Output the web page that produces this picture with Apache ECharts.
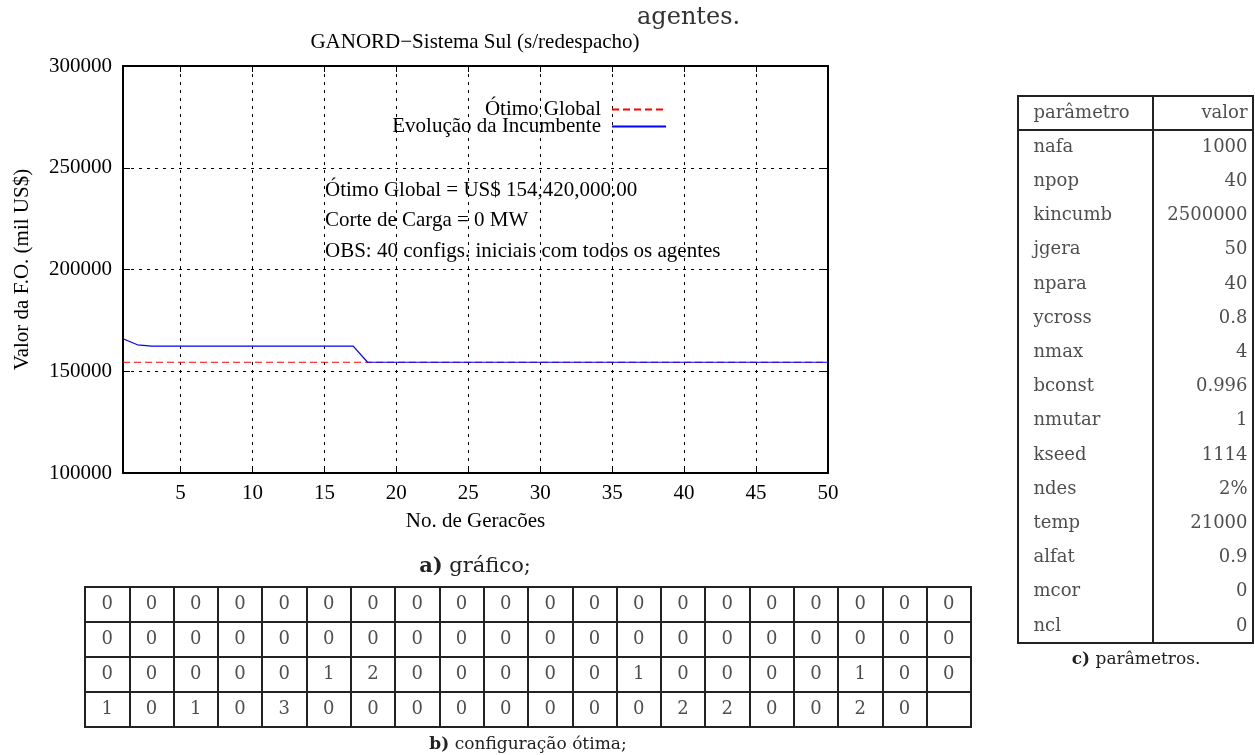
<!DOCTYPE html>
<html>
<head>
<meta charset="utf-8">
<title>GANORD - Sistema Sul</title>
<script src="https://cdn.jsdelivr.net/npm/echarts@6.0.0/dist/echarts.min.js"></script>
<style>
  html, body { margin: 0; padding: 0; background: #fff; }
  #chart { width: 1255px; height: 755px; }
</style>
</head>
<body>
<div id="chart"></div>
<script>
// dados do grafico (geracoes x valor da F.O.)
const generations = [1, 2, 3, 4, 5, 6, 7, 8, 9, 10, 11, 12, 13, 14, 15, 16, 17, 18, 19, 20,
    21, 22, 23, 24, 25, 26, 27, 28, 29, 30, 31, 32, 33, 34, 35, 36, 37, 38, 39, 40,
    41, 42, 43, 44, 45, 46, 47, 48, 49, 50];
const xTicks = [5, 10, 15, 20, 25, 30, 35, 40, 45, 50];
const globalOptimum = [154420, 154420, 154420, 154420, 154420, 154420, 154420, 154420, 154420, 154420,
    154420, 154420, 154420, 154420, 154420, 154420, 154420, 154420, 154420, 154420,
    154420, 154420, 154420, 154420, 154420, 154420, 154420, 154420, 154420, 154420,
    154420, 154420, 154420, 154420, 154420, 154420, 154420, 154420, 154420, 154420,
    154420, 154420, 154420, 154420, 154420, 154420, 154420, 154420, 154420, 154420];
const incumbent = [166000, 163000, 162300, 162300, 162300, 162300, 162300, 162300, 162300, 162300,
    162300, 162300, 162300, 162300, 162300, 162300, 162300, 154420, 154420, 154420,
    154420, 154420, 154420, 154420, 154420, 154420, 154420, 154420, 154420, 154420,
    154420, 154420, 154420, 154420, 154420, 154420, 154420, 154420, 154420, 154420,
    154420, 154420, 154420, 154420, 154420, 154420, 154420, 154420, 154420, 154420];

// b) configuracao otima
const configCols = [1, 2, 3, 4, 5, 6, 7, 8, 9, 10, 11, 12, 13, 14, 15, 16, 17, 18, 19, 20];
const configRow1 = [0, 0, 0, 0, 0, 0, 0, 0, 0, 0, 0, 0, 0, 0, 0, 0, 0, 0, 0, 0];
const configRow2 = [0, 0, 0, 0, 0, 0, 0, 0, 0, 0, 0, 0, 0, 0, 0, 0, 0, 0, 0, 0];
const configRow3 = [0, 0, 0, 0, 0, 1, 2, 0, 0, 0, 0, 0, 1, 0, 0, 0, 0, 1, 0, 0];
const configRow4 = [1, 0, 1, 0, 3, 0, 0, 0, 0, 0, 0, 0, 0, 2, 2, 0, 0, 2, 0];

// c) parametros
const paramHeader = ['parâmetro', 'valor'];
const paramNames = ['nafa', 'npop', 'kincumb', 'jgera', 'npara', 'ycross', 'nmax', 'bconst',
    'nmutar', 'kseed', 'ndes', 'temp', 'alfat', 'mcor', 'ncl'];
const paramValues = ['1000', '40', '2500000', '50', '40', '0.8', '4', '0.996',
    '1', '1114', '2%', '21000', '0.9', '0', '0'];

const notes = ['Ótimo Global = US$ 154,420,000.00', 'Corte de Carga = 0 MW',
    'OBS: 40 configs. iniciais com todos os agentes'];

const GP_FONT = 'Liberation Serif';
const TEX_FONT = 'DejaVu Serif';
const INK = '#222';

const chart = echarts.init(document.getElementById('chart'), null, { renderer: 'canvas' });

function zipXY (xs, ys) {
    return xs.map(function (x, i) { return [x, ys[i]]; });
}

function text (str, x, y, size, family, align, extra) {
    return {
        type: 'text',
        x: x,
        y: y,
        silent: true,
        style: Object.assign({
            text: str,
            fontSize: size,
            fontFamily: family,
            fill: '#000',
            align: align,
            verticalAlign: 'middle'
        }, extra || {})
    };
}

function caption (tag, rest, x, y, size) {
    return text('{b|' + tag + '} ' + rest, x, y, size, TEX_FONT, 'center', {
        fill: INK,
        rich: {
            b: { fontFamily: TEX_FONT, fontSize: size, fontWeight: 'bold', fill: INK }
        }
    });
}

// eixos "escondidos" usados so para posicionar o texto das tabelas
function tableX (gridIndex) {
    return { type: 'value', gridIndex: gridIndex, min: 0, max: 1, show: false };
}
function tableY (gridIndex, data) {
    return { type: 'category', gridIndex: gridIndex, data: data, inverse: true, show: false };
}
function tableCells (xIndex, yIndex, data, position, distance) {
    return {
        type: 'scatter',
        xAxisIndex: xIndex,
        yAxisIndex: yIndex,
        data: data,
        symbolSize: 1,
        clip: false,
        silent: true,
        itemStyle: { color: 'rgba(0,0,0,0)' },
        label: {
            show: true,
            position: position,
            distance: distance,
            formatter: function (p) { return p.value[2]; },
            fontFamily: TEX_FONT,
            fontSize: 18,
            color: INK
        }
    };
}

const configData = [];
[configRow1, configRow2, configRow3, configRow4].forEach(function (row, r) {
    row.forEach(function (v, c) { configData.push([c, r, String(v)]); });
});

const boxGrid = { show: true, borderColor: INK, borderWidth: 2, backgroundColor: 'transparent' };
const tickFont = { fontFamily: GP_FONT, fontSize: 21, color: '#000' };
const dotted = { color: '#000', width: 1, type: [3, 5] };

const options = {
    animation: false,
    backgroundColor: '#fff',
    grid: [
        { left: 123, top: 66, width: 705, height: 407 },
        Object.assign({ left: 85, top: 587, width: 886, height: 140 }, boxGrid),
        Object.assign({ left: 1018, top: 96, width: 135, height: 34 }, boxGrid),
        Object.assign({ left: 1153, top: 96, width: 100, height: 34 }, boxGrid),
        Object.assign({ left: 1018, top: 130, width: 135, height: 513 }, boxGrid),
        Object.assign({ left: 1153, top: 130, width: 100, height: 513 }, boxGrid)
    ],
    legend: {
        orient: 'vertical',
        right: 583,
        top: 94,
        align: 'right',
        itemWidth: 54,
        itemHeight: 8,
        itemGap: -4,
        itemStyle: { opacity: 0 },
        textStyle: { fontFamily: GP_FONT, fontSize: 21, color: '#000', padding: [0, 6, 0, 0] },
        data: ['Ótimo Global', 'Evolução da Incumbente']
    },
    xAxis: [
        {
            type: 'value',
            gridIndex: 0,
            min: 1,
            max: 50,
            position: 'bottom',
            name: 'No. de Geracões',
            nameLocation: 'middle',
            nameGap: 38,
            nameTextStyle: tickFont,
            axisLine: { lineStyle: { color: '#000', width: 2 } },
            axisTick: { inside: true, length: 6, customValues: xTicks, lineStyle: { color: '#000' } },
            axisLabel: Object.assign({ margin: 10, customValues: xTicks }, tickFont),
            splitLine: { show: true, lineStyle: dotted }
        },
        {
            type: 'value',
            gridIndex: 0,
            min: 1,
            max: 50,
            position: 'top',
            axisLine: { lineStyle: { color: '#000', width: 2 } },
            axisTick: { inside: true, length: 6, customValues: xTicks, lineStyle: { color: '#000' } },
            axisLabel: { show: false },
            splitLine: { show: false }
        },
        {
            type: 'category',
            gridIndex: 1,
            data: configCols,
            boundaryGap: true,
            axisLine: { show: false },
            axisTick: { show: false },
            axisLabel: { show: false },
            splitLine: { show: true, interval: 0, lineStyle: { color: INK, width: 2 } }
        },
        tableX(2),
        tableX(3),
        tableX(4),
        tableX(5)
    ],
    yAxis: [
        {
            type: 'value',
            gridIndex: 0,
            min: 100000,
            max: 300000,
            interval: 50000,
            position: 'left',
            name: 'Valor da F.O. (mil US$)',
            nameLocation: 'middle',
            nameGap: 90,
            nameTextStyle: tickFont,
            axisLine: { show: true, lineStyle: { color: '#000', width: 2 } },
            axisTick: { show: true, inside: true, length: 7, lineStyle: { color: '#000' } },
            axisLabel: Object.assign({
                margin: 11,
                formatter: function (v) { return String(v); }
            }, tickFont),
            splitLine: { show: true, showMinLine: false, showMaxLine: false, lineStyle: dotted }
        },
        {
            type: 'value',
            gridIndex: 0,
            min: 100000,
            max: 300000,
            interval: 50000,
            position: 'right',
            axisLine: { show: true, lineStyle: { color: '#000', width: 2 } },
            axisTick: { show: true, inside: true, length: 7, lineStyle: { color: '#000' } },
            axisLabel: { show: false },
            splitLine: { show: false }
        },
        {
            type: 'category',
            gridIndex: 1,
            data: ['1', '2', '3', '4'],
            inverse: true,
            boundaryGap: true,
            axisLine: { show: false },
            axisTick: { show: false },
            axisLabel: { show: false },
            splitLine: { show: true, interval: 0, lineStyle: { color: INK, width: 2 } }
        },
        tableY(2, [paramHeader[0]]),
        tableY(3, [paramHeader[1]]),
        tableY(4, paramNames),
        tableY(5, paramNames)
    ],
    series: [
        {
            name: 'Ótimo Global',
            type: 'line',
            xAxisIndex: 0,
            yAxisIndex: 0,
            data: zipXY(generations, globalOptimum),
            symbol: 'none',
            itemStyle: { color: '#ff0000' },
            lineStyle: { color: '#ff0000', width: 1.2, type: [7, 4] }
        },
        {
            name: 'Evolução da Incumbente',
            type: 'line',
            xAxisIndex: 0,
            yAxisIndex: 0,
            data: zipXY(generations, incumbent),
            symbol: 'none',
            itemStyle: { color: '#0000ff' },
            lineStyle: { color: '#0000ff', width: 1.2 }
        },
        tableCells(2, 2, configData, 'inside', 0),
        tableCells(3, 3, [[0, 0, paramHeader[0]]], 'right', 15),
        tableCells(4, 4, [[1, 0, paramHeader[1]]], 'left', 5),
        tableCells(5, 5, paramNames.map(function (n, i) { return [0, i, n]; }), 'right', 15),
        tableCells(6, 6, paramValues.map(function (v, i) { return [1, i, v]; }), 'left', 5)
    ],
    graphic: [
        text('agentes.', 637, 18, 24, TEX_FONT, 'left', { fill: '#333' }),
        text('GANORD\u2212Sistema Sul (s/redespacho)', 475, 42, 21, GP_FONT, 'center'),
        text(notes[0], 325, 190, 21, GP_FONT, 'left'),
        text(notes[1], 325, 220, 21, GP_FONT, 'left'),
        text(notes[2], 325, 251, 21, GP_FONT, 'left'),
        caption('a)', 'gráfico;', 475, 567, 21),
        caption('b)', 'configuração ótima;', 528, 745, 17),
        caption('c)', 'parâmetros.', 1136, 660, 17)
    ]
};

chart.setOption(options, true);
window.addEventListener('resize', function () {
    chart.resize();
});
</script>
</body>
</html>
